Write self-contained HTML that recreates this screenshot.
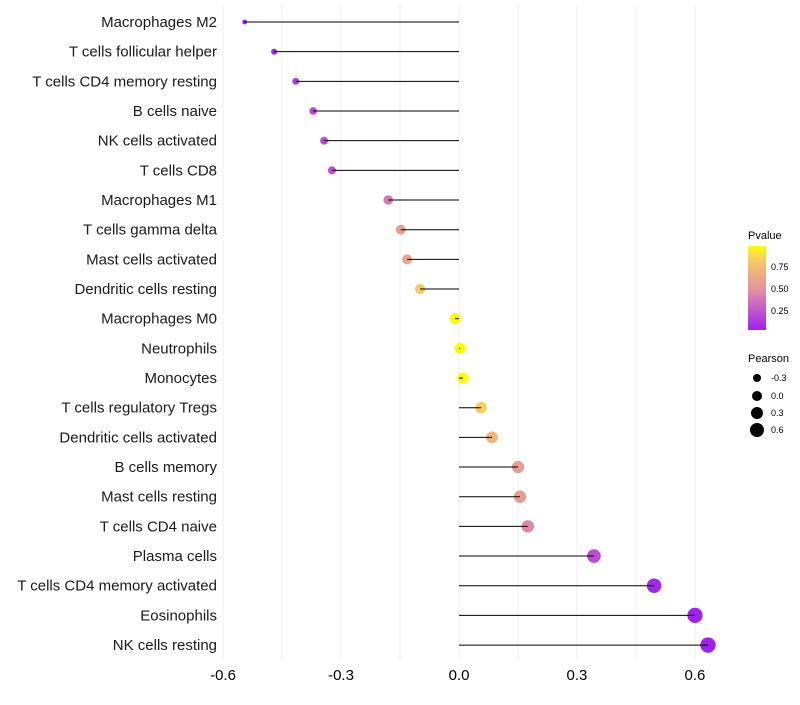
<!DOCTYPE html>
<html><head><meta charset="utf-8"><style>
body{margin:0;background:#fff;font-family:"Liberation Sans",sans-serif;}
svg text{font-family:"Liberation Sans",sans-serif;}
</style></head><body>
<svg id="chart" width="800" height="700">
<defs>
<linearGradient id="pgrad" x1="0" y1="1" x2="0" y2="0">
<stop offset="0" stop-color="#a020f0"/><stop offset="0.3" stop-color="#cc66c4"/>
<stop offset="0.5" stop-color="#e5959a"/><stop offset="0.7" stop-color="#efb37a"/>
<stop offset="0.85" stop-color="#f6d060"/><stop offset="1" stop-color="#ffff00"/>
</linearGradient>
</defs>
<g id="grid"></g><g id="marks"></g><g id="labels"></g>
<g>
<text x="748" y="239" font-size="11">Pvalue</text>
<rect x="748" y="246" width="18" height="84" fill="url(#pgrad)"/>
<text x="771" y="270" font-size="9">0.75</text>
<text x="771" y="292" font-size="9">0.50</text>
<text x="771" y="314" font-size="9">0.25</text>
</g>
<g>
<text x="748" y="362" font-size="11">Pearson</text>
<circle cx="757" cy="378" r="4"/>
<circle cx="757" cy="396" r="5"/>
<circle cx="757" cy="413" r="6"/>
<circle cx="757" cy="430" r="7"/>
<text x="771" y="381" font-size="9">-0.3</text>
<text x="771" y="399" font-size="9">0.0</text>
<text x="771" y="416" font-size="9">0.3</text>
<text x="771" y="433" font-size="9">0.6</text>
</g>
</svg>
<script>
const categories=["Macrophages M2","T cells follicular helper","T cells CD4 memory resting","B cells naive","NK cells activated","T cells CD8","Macrophages M1","T cells gamma delta","Mast cells activated","Dendritic cells resting","Macrophages M0","Neutrophils","Monocytes","T cells regulatory  Tregs","Dendritic cells activated","B cells memory","Mast cells resting","T cells CD4 naive","Plasma cells","T cells CD4 memory activated","Eosinophils","NK cells resting"];
const pearson=[-0.545,-0.47,-0.415,-0.371,-0.343,-0.323,-0.18,-0.148,-0.132,-0.099,-0.01,0.003,0.01,0.056,0.084,0.15,0.155,0.175,0.343,0.496,0.6,0.633];
const pvalues=[0.02,0.06,0.15,0.18,0.2,0.22,0.4,0.55,0.6,0.8,0.97,0.99,0.98,0.83,0.7,0.55,0.55,0.45,0.2,0.05,0.03,0.02];
const xTicks=[-0.6,-0.3,0,0.3,0.6];
const xTickLabels=["-0.6","-0.3","0.0","0.3","0.6"];
const X=v=>459+v*393.3;
const Y=i=>22+i*29.67;
const R=v=>Math.sqrt(Math.max(3,4+(v+0.545)*41.7))+0.4;
const stops=[[0,[160,32,240]],[0.3,[204,102,196]],[0.5,[229,149,154]],[0.7,[239,179,122]],[0.85,[246,208,96]],[1,[255,255,0]]];
function col(p){p=Math.max(0,Math.min(1,(p-0.023)/0.954));for(let k=1;k<stops.length;k++){if(p<=stops[k][0]){const a=stops[k-1],b=stops[k],t=(p-a[0])/(b[0]-a[0]);return 'rgb('+a[1].map((c,j)=>Math.round(c+(b[1][j]-c)*t)).join(',')+')';}}return 'rgb(255,255,0)';}
const NS='http://www.w3.org/2000/svg';
function mk(tag,attrs,parent){const e=document.createElementNS(NS,tag);for(const k in attrs)e.setAttribute(k,attrs[k]);parent.appendChild(e);return e;}
const grid=document.getElementById('grid'),marks=document.getElementById('marks'),labels=document.getElementById('labels');
for(let g=-0.6;g<=0.76;g+=0.15){if(X(g)>735)break;const l=mk('line',{x1:X(g),x2:X(g),y1:5,y2:660,stroke:'#efefef','stroke-width':1},grid);

}
xTicks.forEach((t,i)=>{const tx=mk('text',{x:X(t),y:680,'font-size':15,'text-anchor':'middle',fill:'#000'},labels);tx.textContent=xTickLabels[i];

});
categories.forEach((c,i)=>{
const tx=mk('text',{x:217,y:Y(i)+5,'font-size':15,'text-anchor':'end',fill:'#1a1a1a'},labels);tx.textContent=c;


const d=mk('circle',{cx:X(pearson[i]),cy:Y(i),r:R(pearson[i]),fill:col(pvalues[i])},marks);


const l=mk('line',{x1:X(0),x2:X(pearson[i]),y1:Y(i),y2:Y(i),stroke:'#000','stroke-width':1},marks);


});
</script>
</body></html>
